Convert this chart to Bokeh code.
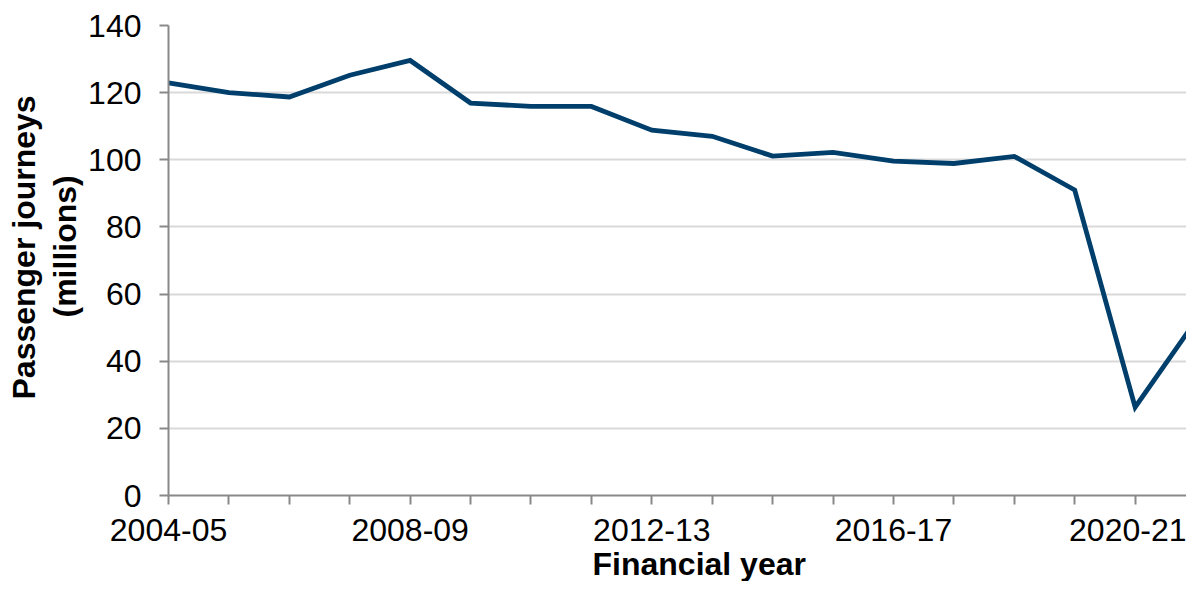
from bokeh.plotting import figure
from bokeh.models import FixedTicker, Range1d, Title
from bokeh.embed import file_html
from bokeh.resources import INLINE

years = ["2004-05", "2005-06", "2006-07", "2007-08", "2008-09", "2009-10",
         "2010-11", "2011-12", "2012-13", "2013-14", "2014-15", "2015-16",
         "2016-17", "2017-18", "2018-19", "2019-20", "2020-21", "2021-22"]
journeys = [122.9, 120.0, 118.7, 125.2, 129.6, 116.9, 115.9, 115.9, 108.8,
            107.0, 101.1, 102.2, 99.6, 98.9, 101.0, 91.0, 26.3, 52.0]
labelled_years = ["2004-05", "2008-09", "2012-13", "2016-17", "2020-21"]
y_ticks = [0, 20, 40, 60, 80, 100, 120, 140]

idx = list(range(len(years)))

FONT = "Liberation Sans"
FS = "32px"
p = figure(width=1186, height=581, output_backend="svg", toolbar_location=None,
           x_range=Range1d(0, 16.85), y_range=Range1d(0, 140),
           min_border_left=168, min_border_right=0, min_border_top=25,
           min_border_bottom=0)
p.outline_line_color = None
p.background_fill_color = "white"

p.line(idx, journeys, line_color="#003f6b", line_width=4.8, line_join="miter")

# x axis
p.xaxis.ticker = FixedTicker(ticks=idx)
p.xaxis.major_label_overrides = {i: (y if y in labelled_years else "") for i, y in enumerate(years)}
p.xaxis.axis_line_color = "#898989"
p.xaxis.axis_line_width = 2
p.xaxis.major_tick_line_color = "#898989"
p.xaxis.major_tick_line_width = 2
p.xaxis.major_tick_out = 9
p.xaxis.major_tick_in = 0
p.xaxis.minor_tick_line_color = None
p.xaxis.major_label_text_font = FONT
p.xaxis.major_label_text_font_size = FS
p.xaxis.major_label_text_color = "black"
p.xaxis.major_label_standoff = 14

# y axis
p.yaxis.ticker = FixedTicker(ticks=y_ticks)
p.yaxis.axis_line_color = "#898989"
p.yaxis.axis_line_width = 2
p.yaxis.major_tick_line_color = "#898989"
p.yaxis.major_tick_line_width = 2
p.yaxis.major_tick_out = 9
p.yaxis.major_tick_in = 0
p.yaxis.minor_tick_line_color = None
p.yaxis.major_label_text_font = FONT
p.yaxis.major_label_text_font_size = FS
p.yaxis.major_label_text_color = "black"
p.yaxis.major_label_standoff = 18

p.xgrid.grid_line_color = None
p.ygrid.grid_line_color = "#d9d9d9"
p.ygrid.grid_line_width = 2

title_style = dict(text_font=FONT, text_font_style="bold", text_font_size=FS,
                   text_color="black", align="left")

xt = Title(text="Financial year", offset=424, standoff=0, **title_style)
p.add_layout(xt, "below")

yt2 = Title(text="(millions)", offset=178, standoff=6, text_line_height=0.7, **title_style)
p.add_layout(yt2, "left")
yt1 = Title(text="Passenger journeys", offset=96, standoff=0, text_line_height=0.7, **title_style)
p.add_layout(yt1, "left")

open("out.html", "w").write(file_html(p, INLINE))
